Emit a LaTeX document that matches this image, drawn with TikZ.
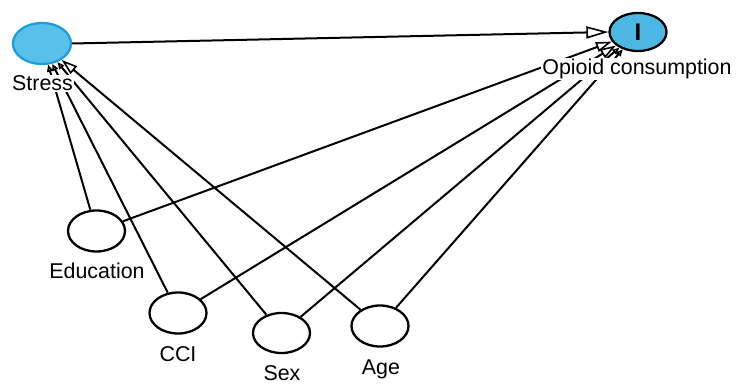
\documentclass[tikz,border=0pt]{standalone}
\usepackage{fontspec}
\setmainfont{Liberation Sans}
\usetikzlibrary{arrows.meta,shapes.geometric}
\definecolor{stressfill}{HTML}{57C1EC}
\definecolor{stressdraw}{HTML}{1E9ED9}
\definecolor{opfill}{HTML}{4DB7E4}
\begin{document}
\begin{tikzpicture}[x=1pt,y=-1pt,
  var/.style={ellipse, draw=black, line width=2.3pt, minimum width=57pt, minimum height=41pt, inner sep=0pt},
  lab/.style={font=\fontsize{21.4}{24}\selectfont, inner sep=1pt, fill=white, anchor=base},
  conn/.style={line width=2pt},
  bighead/.style={conn, -{Triangle[open, length=22pt, width=12pt, line width=1.6pt]}},
  midhead/.style={conn, -{Triangle[open, length=16pt, width=10pt, line width=1.6pt]}},
  smallhead/.style={conn, -{Triangle[open, length=7pt, width=6pt, line width=1.6pt]}}]
\useasboundingbox (0,0) rectangle (741,387);
\node[var, fill=stressfill, draw=stressdraw, minimum width=58pt] (stress) at (42,43.5) {};
\node[var, fill=opfill, minimum height=38pt] (opioid) at (638,32) {\fontsize{24}{24}\selectfont\bfseries I};
\node[var] (edu) at (96.5,231) {};
\node[var] (cci) at (178,313) {};
\node[var, minimum height=40pt] (sex) at (281.5,333) {};
\node[var] (age) at (380,326) {};
\draw[bighead] (stress.east) -- (opioid.west);
\draw[smallhead] (edu) -- (stress);
\draw[smallhead] (cci) -- (stress);
\draw[smallhead] (sex) -- (stress);
\draw[midhead] (age) -- (stress);
\draw[midhead] (edu) -- (opioid);
\draw[midhead] (cci) -- (opioid);
\draw[smallhead] (sex) -- (opioid);
\draw[smallhead] (age) -- (opioid);
\node[lab] (lstress) at (42.5,90.5) {Stress};
\node[lab] (lopioid) at (637,75) {Opioid consumption};
\node[lab] (ledu) at (97,279) {Education};
\node[lab] (lcci) at (178,361) {CCI};
\node[lab] (lsex) at (282,380) {Sex};
\node[lab] (lage) at (381,374) {Age};
\end{tikzpicture}
\end{document}
